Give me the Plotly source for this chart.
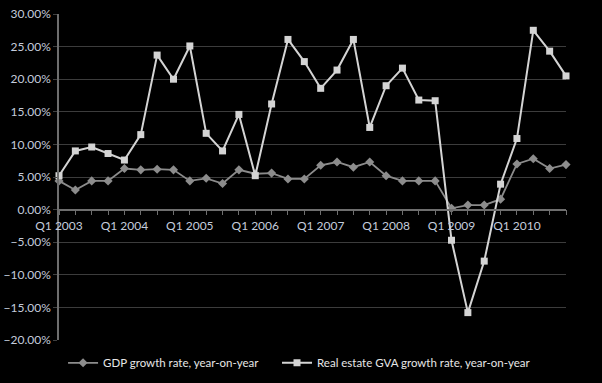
import plotly.graph_objects as go

years = list(range(2003, 2011))
quarters = [f"Q{q} {y}" for y in years for q in (1, 2, 3, 4)]
tick_labels = [f"Q1 {y}" for y in years]

gdp_growth = [4.4, 3.0, 4.4, 4.4, 6.3, 6.1, 6.2, 6.1,
              4.4, 4.8, 4.0, 6.1, 5.5, 5.6, 4.7, 4.7,
              6.8, 7.3, 6.5, 7.3, 5.2, 4.4, 4.4, 4.4,
              0.2, 0.7, 0.7, 1.6, 7.0, 7.8, 6.3, 6.9]
real_estate_growth = [5.2, 9.0, 9.6, 8.6, 7.6, 11.5, 23.7, 20.0,
                      25.1, 11.7, 9.0, 14.6, 5.2, 16.2, 26.1, 22.7,
                      18.6, 21.4, 26.1, 12.6, 19.0, 21.7, 16.8, 16.7,
                      -4.7, -15.8, -7.9, 3.9, 10.9, 27.5, 24.3, 20.5]

x_idx = list(range(len(quarters)))

fig = go.Figure()
fig.add_trace(go.Scatter(
    x=x_idx, y=gdp_growth, name="GDP growth rate, year-on-year",
    mode="lines+markers", cliponaxis=False, legend="legend",
    line=dict(color="#8c8c8c", width=1.8),
    marker=dict(symbol="diamond", size=7, color="#8c8c8c"),
    hovertext=quarters,
))
fig.add_trace(go.Scatter(
    x=x_idx, y=real_estate_growth, name="Real estate GVA growth rate, year-on-year",
    mode="lines+markers", cliponaxis=False, legend="legend2",
    line=dict(color="#d4d4d4", width=2),
    marker=dict(symbol="square", size=7, color="#d4d4d4"),
    hovertext=quarters,
))

legend_style = dict(orientation="h", xanchor="left", y=-0.07, yanchor="middle",
                    font=dict(color="#e6e6e6", size=11.5), bgcolor="rgba(0,0,0,0)")

fig.update_layout(
    width=602, height=383,
    paper_bgcolor="#000000", plot_bgcolor="#000000",
    margin=dict(l=59, r=36, t=14, b=43, autoexpand=False),
    font=dict(family="Lato, 'DejaVu Sans', sans-serif", size=12, color="#c4ccdc"),
    showlegend=True,
    legend=dict(x=0.008, **legend_style),
    legend2=dict(x=0.43, **legend_style),
    xaxis=dict(
        range=[0, len(quarters) - 1], anchor="free", position=0.4,
        tickmode="array", tickvals=x_idx[::4], ticktext=tick_labels,
        ticks="outside", ticklen=5, tickcolor="#6e6e6e",
        minor=dict(dtick=1, ticks="outside", ticklen=5, tickcolor="#6e6e6e", showgrid=False),
        showline=True, linecolor="#6e6e6e", linewidth=1.5,
        showgrid=False, zeroline=False,
        tickfont=dict(color="#c4ccdc", size=12),
    ),
    yaxis=dict(
        range=[-20, 30], dtick=5, tick0=0,
        tickformat=".2f", ticksuffix="%",
        ticks="outside", ticklen=4, tickcolor="#404040",
        showline=True, linecolor="#6e6e6e", linewidth=1.5,
        showgrid=True, gridcolor="#3c3c3c", gridwidth=1.2,
        zeroline=False,
        tickfont=dict(color="#c4ccdc", size=12),
    ),
)

fig.write_html("out.html", config={"displayModeBar": False},
               post_script="document.body.style.margin='0';document.body.style.background='#000';")
